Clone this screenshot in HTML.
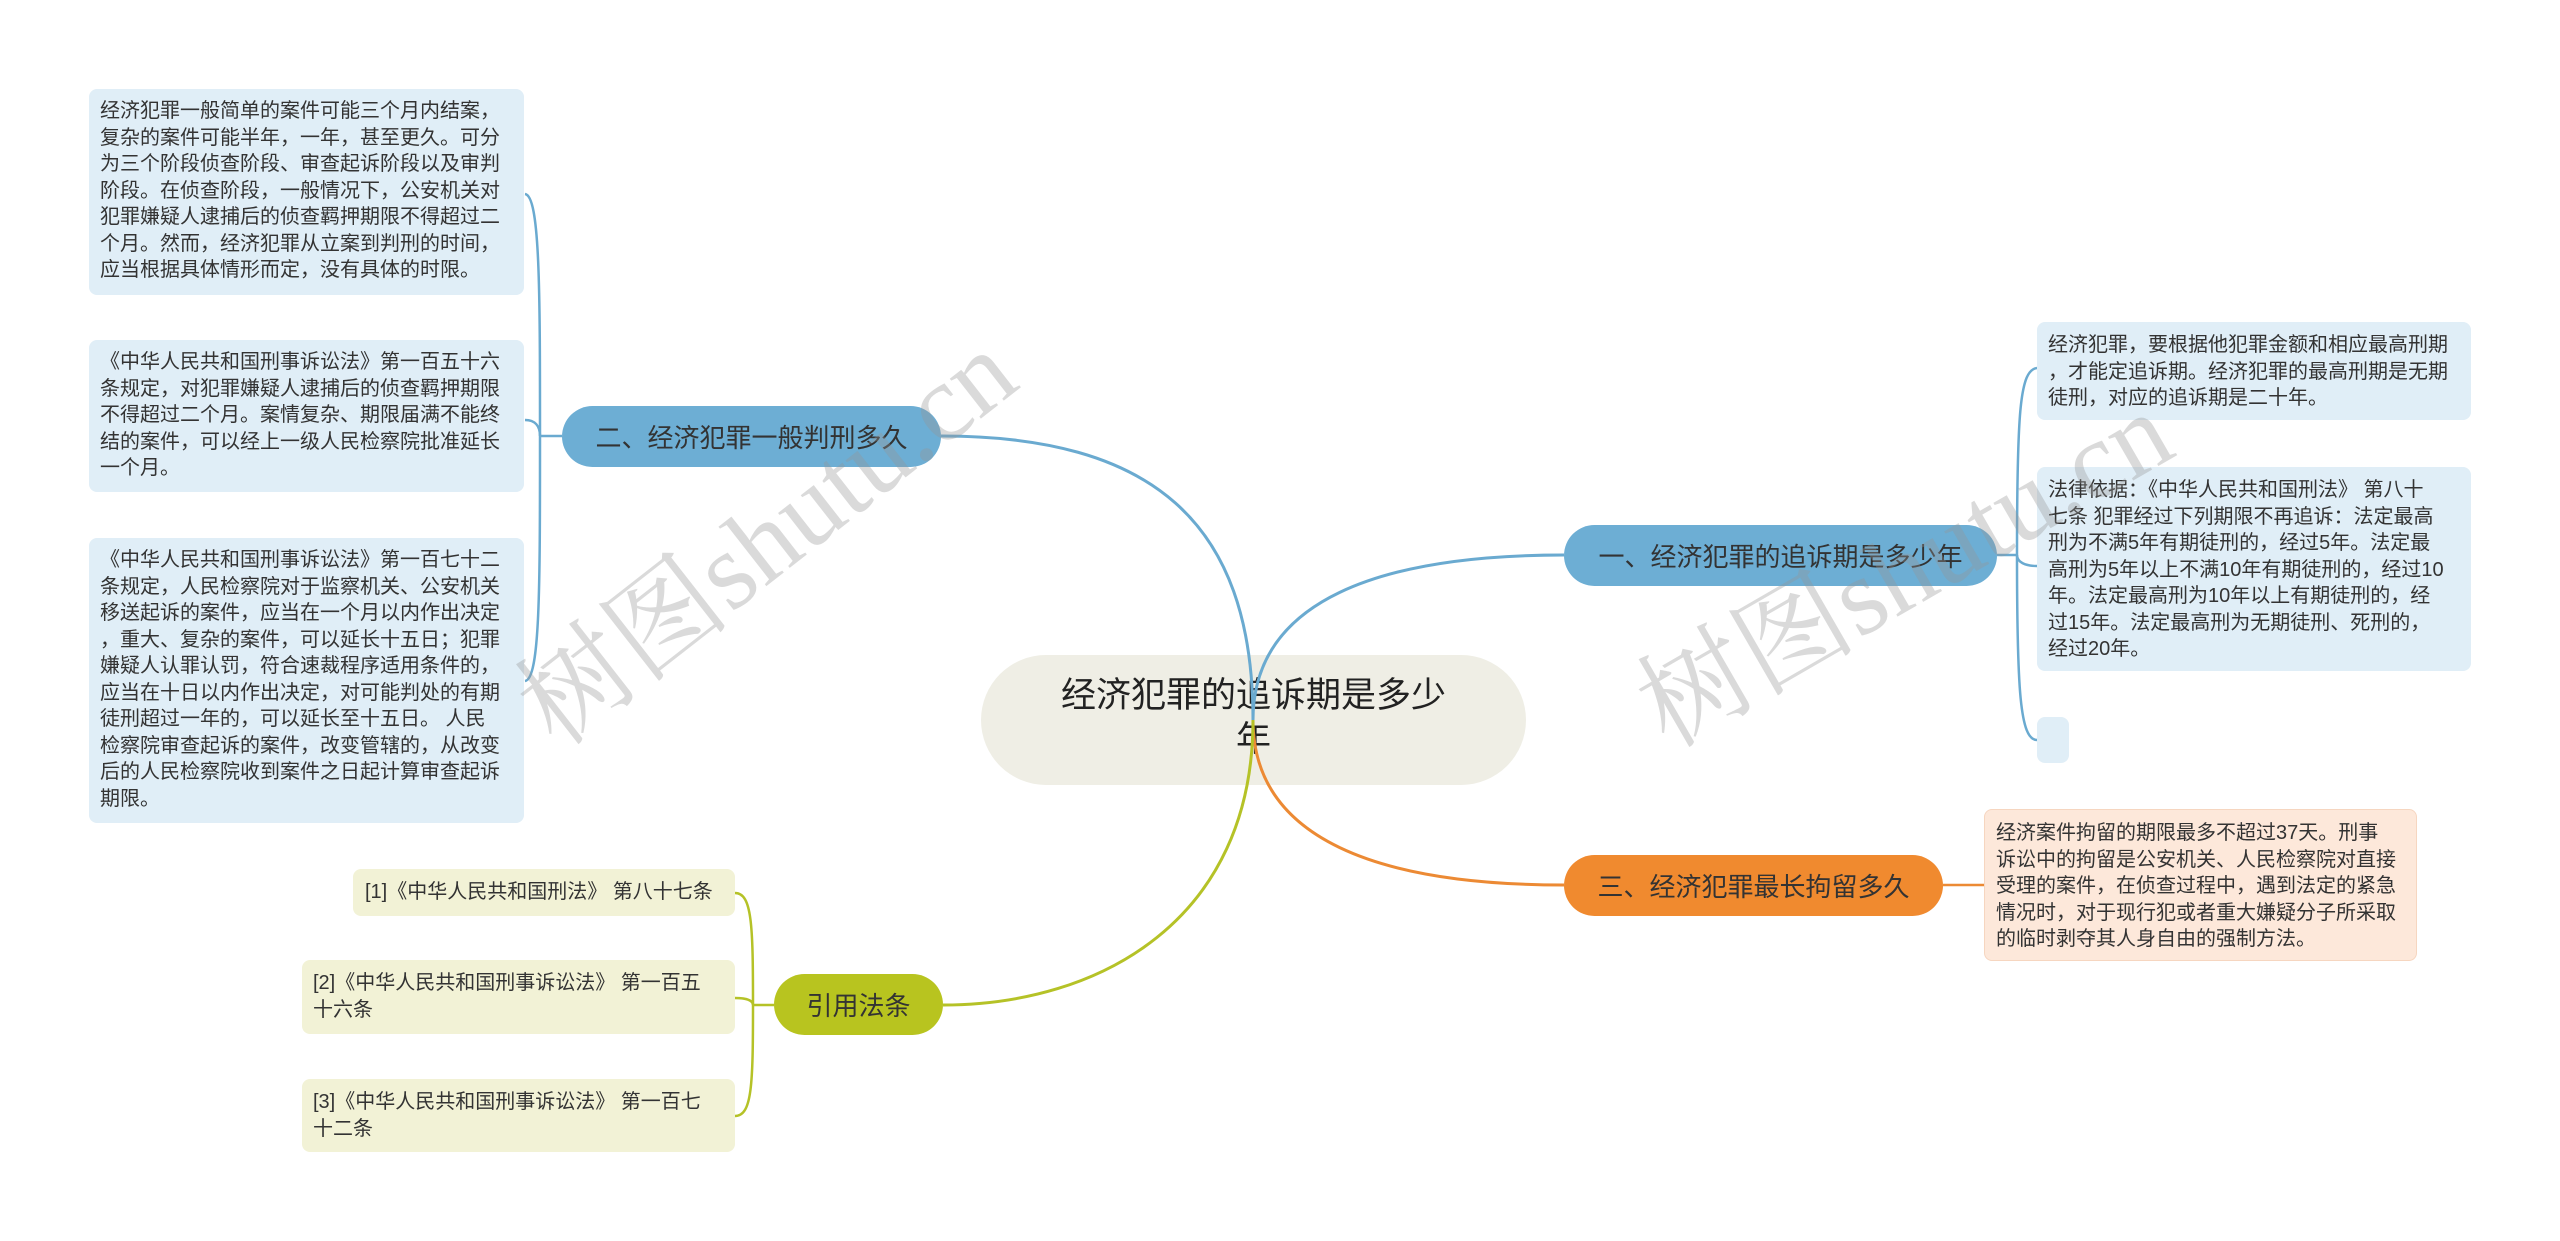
<!DOCTYPE html>
<html><head><meta charset="utf-8"><style>
html,body{margin:0;padding:0;background:#fff;}
body{width:2560px;height:1241px;position:relative;overflow:hidden;font-family:"Liberation Sans","Noto Sans CJK SC",sans-serif;color:#333;}
.b{position:absolute;box-sizing:border-box;border-radius:8px;font-size:20px;line-height:26.5px;padding:9px 11px;white-space:nowrap;}
.lb{background:#e0eef7;}
.gb{background:#f2f2d6;}
.ob{background:#fde8da;border:1px solid #f6d6c0;}
.n{position:absolute;box-sizing:border-box;border-radius:31px;font-size:26px;display:flex;align-items:center;justify-content:center;color:#333;white-space:nowrap;}
.wm{position:absolute;font-family:"Liberation Serif","Noto Serif CJK SC",serif;font-size:110px;color:rgba(150,150,150,0.35);transform:rotate(-30deg);transform-origin:left top;white-space:nowrap;}
</style></head><body>

<div style="position:absolute;left:981px;top:655px;width:545px;height:130px;border-radius:65px;background:#efeee5;"></div>
<div style="position:absolute;left:981px;top:674px;width:545px;text-align:center;font-size:35px;line-height:44px;color:#222;">经济犯罪的追诉期是多少<br>年</div>

<svg width="2560" height="1241" style="position:absolute;left:0;top:0" fill="none" stroke-width="3">
<path d="M941,436 C1150,436 1253,520 1253,720" stroke="#6aaad0"/>
<path d="M1253,720 C1253,600 1380,555 1564,555" stroke="#6aaad0"/>
<path d="M1253,720 C1253,840 1380,885 1564,885" stroke="#ec8a34"/>
<path d="M1253,720 C1253,920 1100,1005 943,1005" stroke="#b5c227"/>
<g stroke="#6aaad0" stroke-width="2.5">
<path d="M562,436 L540,436"/>
<path d="M540,436 C540,290 540,196 525,194"/>
<path d="M540,436 C540,426 535,420 525,420"/>
<path d="M540,436 C540,590 540,679 525,681"/>
<path d="M1997,555 L2017,555"/>
<path d="M2017,555 C2017,410 2020,370 2037,368"/>
<path d="M2017,555 C2017,562 2025,566 2037,566"/>
<path d="M2017,555 C2017,690 2020,740 2037,740"/>
</g>
<g stroke="#b5c227" stroke-width="2.5">
<path d="M774,1005 L753,1005"/>
<path d="M753,1005 C753,925 752,893 735,893"/>
<path d="M753,1005 C753,1000 745,998 735,998"/>
<path d="M753,1005 C753,1085 752,1116 735,1116"/>
</g>
<path d="M1943,885 L1984,885" stroke="#ec8a34" stroke-width="2.5"/>
</svg>

<div class="n" style="left:562px;top:406px;width:379px;height:61px;background:#6daed4;">二、经济犯罪一般判刑多久</div>
<div class="n" style="left:1564px;top:525px;width:433px;height:61px;background:#6daed4;">一、经济犯罪的追诉期是多少年</div>
<div class="n" style="left:1564px;top:855px;width:379px;height:61px;background:#f08a2f;">三、经济犯罪最长拘留多久</div>
<div class="n" style="left:774px;top:974px;width:169px;height:61px;background:#b8c41f;">引用法条</div>

<div class="b lb" style="left:89px;top:89px;width:435px;height:206px;">经济犯罪一般简单的案件可能三个月内结案，<br>复杂的案件可能半年，一年，甚至更久。可分<br>为三个阶段侦查阶段、审查起诉阶段以及审判<br>阶段。在侦查阶段，一般情况下，公安机关对<br>犯罪嫌疑人逮捕后的侦查羁押期限不得超过二<br>个月。然而，经济犯罪从立案到判刑的时间，<br>应当根据具体情形而定，没有具体的时限。</div>
<div class="b lb" style="left:89px;top:340px;width:435px;height:152px;">《中华人民共和国刑事诉讼法》第一百五十六<br>条规定，对犯罪嫌疑人逮捕后的侦查羁押期限<br>不得超过二个月。案情复杂、期限届满不能终<br>结的案件，可以经上一级人民检察院批准延长<br>一个月。</div>
<div class="b lb" style="left:89px;top:538px;width:435px;height:285px;">《中华人民共和国刑事诉讼法》第一百七十二<br>条规定，人民检察院对于监察机关、公安机关<br>移送起诉的案件，应当在一个月以内作出决定<br>，重大、复杂的案件，可以延长十五日；犯罪<br>嫌疑人认罪认罚，符合速裁程序适用条件的，<br>应当在十日以内作出决定，对可能判处的有期<br>徒刑超过一年的，可以延长至十五日。 人民<br>检察院审查起诉的案件，改变管辖的，从改变<br>后的人民检察院收到案件之日起计算审查起诉<br>期限。</div>

<div class="b gb" style="left:353px;top:869px;width:382px;height:47px;padding-top:10px;padding-left:12px;">[1]《中华人民共和国刑法》 第八十七条</div>
<div class="b gb" style="left:302px;top:960px;width:433px;height:74px;padding-top:10px;">[2]《中华人民共和国刑事诉讼法》 第一百五<br>十六条</div>
<div class="b gb" style="left:302px;top:1079px;width:433px;height:73px;padding-top:10px;">[3]《中华人民共和国刑事诉讼法》 第一百七<br>十二条</div>

<div class="b lb" style="left:2037px;top:322px;width:434px;height:98px;padding-top:10px;">经济犯罪，要根据他犯罪金额和相应最高刑期<br>，才能定追诉期。经济犯罪的最高刑期是无期<br>徒刑，对应的追诉期是二十年。</div>
<div class="b lb" style="left:2037px;top:467px;width:434px;height:204px;padding-top:10px;">法律依据：《中华人民共和国刑法》 第八十<br>七条 犯罪经过下列期限不再追诉：法定最高<br>刑为不满5年有期徒刑的，经过5年。法定最<br>高刑为5年以上不满10年有期徒刑的，经过10<br>年。法定最高刑为10年以上有期徒刑的，经<br>过15年。法定最高刑为无期徒刑、死刑的，<br>经过20年。</div>
<div class="b lb" style="left:2037px;top:717px;width:32px;height:46px;padding:0;"></div>

<div class="b ob" style="left:1984px;top:809px;width:433px;height:152px;padding-top:10px;">经济案件拘留的期限最多不超过37天。刑事<br>诉讼中的拘留是公安机关、人民检察院对直接<br>受理的案件，在侦查过程中，遇到法定的紧急<br>情况时，对于现行犯或者重大嫌疑分子所采取<br>的临时剥夺其人身自由的强制方法。</div>

<div class="wm" style="left:480px;top:650px;transform:rotate(-38deg);">树图shutu.cn</div>
<div class="wm" style="left:1605px;top:640px;">树图shutu.cn</div>
</body></html>
